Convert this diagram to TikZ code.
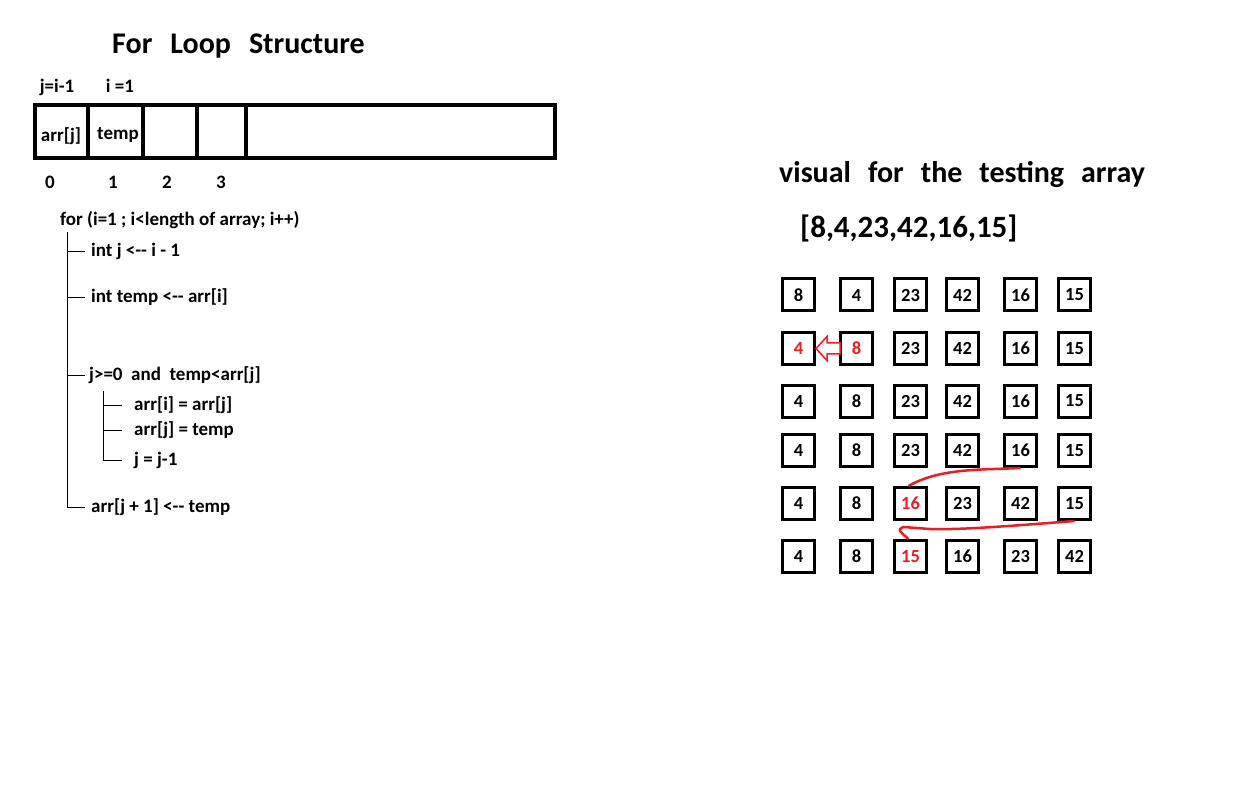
\documentclass[tikz,border=0pt]{standalone}
\usepackage{fontspec}
\setmainfont{Carlito}
\definecolor{paintred}{RGB}{237,28,36}
\begin{document}
\begin{tikzpicture}[x=1pt, y=-1pt,
  txt/.style={font=\fontsize{19}{21}\selectfont\bfseries, inner sep=0pt},
  bigtxt/.style={font=\fontsize{30}{34}\selectfont\bfseries, inner sep=0pt},
  cell/.style={draw, line width=4pt, inner sep=0pt, minimum height=53pt, font=\fontsize{19}{21}\selectfont\bfseries},
  numbox/.style={draw, line width=3pt, inner sep=0pt, minimum size=32pt, font=\fontsize{18.5}{20}\selectfont\bfseries},
  hot/.style={text=paintred}]
\useasboundingbox[fill=white] (0,0) rectangle (1248,794);
% array used by the loop
\node[bigtxt, anchor=west] (title) at (112,46) {For\hspace{18pt}Loop\hspace{18pt}Structure};
\node[cell, minimum width=53pt] (cell0) at (61.5,131.5){};
\node[cell, minimum width=55pt] (cell1) at (115.5,131.5){};
\node[cell, minimum width=54pt] (cell2) at (170,131.5){};
\node[cell, minimum width=49pt] (cell3) at (221.5,131.5){};
\node[cell, minimum width=309pt] (cell4) at (400.5,131.5){};
\node[txt] (arrj) at (61,136){arr[j]};
\node[txt] (temp) at (118,135){temp};
\node[txt] (jlab) at (57,87){j=i-1};
\node[txt] (ilab) at (120,86){i =1};
\node[txt] (idx0) at (50,182){0};
\node[txt] (idx1) at (113,182){1};
\node[txt] (idx2) at (167,182){2};
\node[txt] (idx3) at (221,182){3};
% loop body
\node[txt, anchor=west] (loop) at (60,220){for (i=1 ; i<length of array; i++)};
\node[txt, anchor=west] (st1) at (91,251){int j <-{}- i - 1};
\node[txt, anchor=west] (st2) at (91,297){int temp <-{}- arr[i]};
\node[txt, anchor=west] (st3) at (89,375){j>=0~~and~~temp<arr[j]};
\node[txt, anchor=west] (st31) at (134,405){arr[i] = arr[j]};
\node[txt, anchor=west] (st32) at (134,430){arr[j] = temp};
\node[txt, anchor=west] (st33) at (134,460){j = j-1};
\node[txt, anchor=west] (st4) at (91,507){arr[j + 1] <-{}- temp};
\coordinate (trunk) at (67,232);
\coordinate (branch) at (103,391);
\draw[](trunk) |- ([xshift=-6pt]st4.west);
\draw[](trunk |- st1.west) -- ([xshift=-6pt]st1.west);
\draw[](trunk |- st2.west) -- ([xshift=-6pt]st2.west);
\draw[](trunk |- st3.west) -- ([xshift=-4pt]st3.west);
\draw[](branch) |- ([xshift=-12pt]st33.west);
\draw[](branch |- st31.west) -- ([xshift=-12pt]st31.west);
\draw[](branch |- st32.west) -- ([xshift=-12pt]st32.west);
% testing array
\node[bigtxt, anchor=west] (visual) at (779,174){visual\hspace{17pt}for\hspace{17pt}the\hspace{17pt}testing\hspace{17pt}array};
\node[bigtxt, anchor=west, font=\fontsize{31}{35}\selectfont\bfseries] (input) at (800,228){[8,4,23,42,16,15]};
\node[numbox] (r1c1) at (798.5,295){8};
\node[numbox] (r1c2) at (856.5,295){4};
\node[numbox] (r1c3) at (910.5,295){23};
\node[numbox] (r1c4) at (962.5,295){42};
\node[numbox] (r1c5) at (1020.5,295){16};
\node[numbox] (r1c6) at (1074.5,295){15};
\node[numbox, hot] (r2c1) at (798.5,348.5){4};
\node[numbox, hot] (r2c2) at (856.5,348.5){8};
\node[numbox] (r2c3) at (910.5,348.5){23};
\node[numbox] (r2c4) at (962.5,348.5){42};
\node[numbox] (r2c5) at (1020.5,348.5){16};
\node[numbox] (r2c6) at (1074.5,348.5){15};
\node[numbox] (r3c1) at (798.5,401){4};
\node[numbox] (r3c2) at (856.5,401){8};
\node[numbox] (r3c3) at (910.5,401){23};
\node[numbox] (r3c4) at (962.5,401){42};
\node[numbox] (r3c5) at (1020.5,401){16};
\node[numbox] (r3c6) at (1074.5,401){15};
\node[numbox] (r4c1) at (798.5,450.5){4};
\node[numbox] (r4c2) at (856.5,450.5){8};
\node[numbox] (r4c3) at (910.5,450.5){23};
\node[numbox] (r4c4) at (962.5,450.5){42};
\node[numbox] (r4c5) at (1020.5,450.5){16};
\node[numbox] (r4c6) at (1074.5,450.5){15};
\node[numbox] (r5c1) at (798.5,503.5){4};
\node[numbox] (r5c2) at (856.5,503.5){8};
\node[numbox, hot] (r5c3) at (910.5,503.5){16};
\node[numbox] (r5c4) at (962.5,503.5){23};
\node[numbox] (r5c5) at (1020.5,503.5){42};
\node[numbox] (r5c6) at (1074.5,503.5){15};
\node[numbox] (r6c1) at (798.5,556.5){4};
\node[numbox] (r6c2) at (856.5,556.5){8};
\node[numbox, hot] (r6c3) at (910.5,556.5){15};
\node[numbox] (r6c4) at (962.5,556.5){16};
\node[numbox] (r6c5) at (1020.5,556.5){23};
\node[numbox] (r6c6) at (1074.5,556.5){42};
% moves
\draw[paintred, line width=1.5pt, fill=white, line join=miter](r2c1.east) -- ++(11,-12) -- ++(0,6.5) -- ++(13,0) -- ++(0,11) -- ++(-13,0) -- ++(0,6.5) -- cycle;
\draw[paintred, line width=2.5pt](r4c5.south) .. controls (980,470) and (940,468) .. ([xshift=-2pt]r5c3.north);
\draw[paintred, line width=2.5pt](r5c6.south) .. controls (1010,526) and (960,530) .. (930,529) -- (903,527) .. controls (898,530) .. ([xshift=-2pt]r6c3.north);
\end{tikzpicture}
\end{document}
